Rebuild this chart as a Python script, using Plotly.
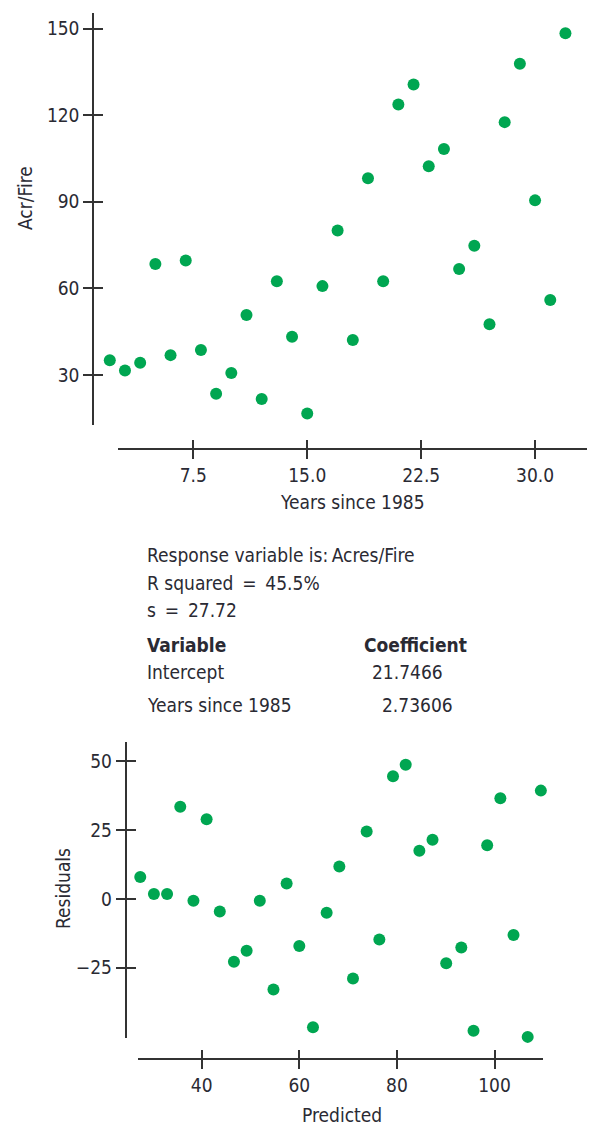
import plotly.graph_objects as go

# ---------------- data ----------------
years = [2, 3, 4, 5, 6, 7, 8, 9, 10, 11, 12, 13, 14, 15, 16, 17,
         18, 19, 20, 21, 22, 23, 24, 25, 26, 27, 28, 29, 30, 31, 32]
acres_per_fire = [35.1, 31.6, 34.3, 68.5, 36.9, 69.7, 38.7, 23.5, 30.7, 50.8,
                  21.7, 62.5, 43.3, 16.7, 60.8, 80.1, 42.1, 98.2, 62.5, 123.7,
                  130.6, 102.3, 108.3, 66.7, 74.8, 47.6, 117.6, 137.8, 90.5,
                  56.0, 148.4]
predicted = [27.4, 30.2, 32.9, 35.6, 38.3, 41.0, 43.7, 46.6, 49.2, 51.9, 54.7,
             57.4, 60.0, 62.8, 65.6, 68.2, 71.0, 73.8, 76.4, 79.2, 81.8, 84.6,
             87.3, 90.1, 93.2, 95.7, 98.5, 101.2, 103.9, 106.8, 109.5]
residuals = [8.0, 1.8, 1.8, 33.5, -0.7, 29.0, -4.6, -22.9, -18.9, -0.7, -33.0,
             5.6, -17.1, -46.7, -5.0, 11.8, -29.0, 24.5, -14.8, 44.6, 48.8,
             17.5, 21.5, -23.4, -17.7, -48.0, 19.5, 36.6, -13.1, -50.2, 39.4]

top_x_ticks = [7.5, 15.0, 22.5, 30.0]
top_x_labels = ["7.5", "15.0", "22.5", "30.0"]
top_y_ticks = [30, 60, 90, 120, 150]
top_y_labels = ["30", "60", "90", "120", "150"]
bot_x_ticks = [40, 60, 80, 100]
bot_x_labels = ["40", "60", "80", "100"]
bot_y_ticks = [-25, 0, 25, 50]
bot_y_labels = ["\u221225", "0", "25", "50"]

summary_lines = ["Response variable is:\u2009Acres/Fire",
                 "R squared \u2009=\u2009 45.5%",
                 "s \u2009=\u2009 27.72"]
table_header = ["Variable", "Coefficient"]
table_rows = [("Intercept", "21.7466"), ("Years since 1985", "2.73606")]

# ---------------- style ----------------
W, H = 597, 1137
FONT = "DejaVu Sans Condensed, Liberation Sans Narrow, sans-serif"
TXT = "#2a2a33"
LINE = "#333333"
GREEN = "#00a651"
FS = 19


def fx(px):
    return px / W


def fy(py):
    return 1 - py / H


fig = go.Figure()

# invisible trace carrying the shorter top x-axis line (added first, drawn below)
fig.add_trace(go.Scatter(x=years, y=acres_per_fire, mode="markers",
                         marker=dict(opacity=0), xaxis="x5", yaxis="y", hoverinfo="skip"))
marker = dict(color=GREEN, size=12, line=dict(width=0))
fig.add_trace(go.Scatter(x=years, y=acres_per_fire, mode="markers", marker=marker,
                         cliponaxis=False, xaxis="x", yaxis="y", hoverinfo="x+y"))
fig.add_trace(go.Scatter(x=predicted, y=residuals, mode="markers", marker=marker,
                         cliponaxis=False, xaxis="x2", yaxis="y2", hoverinfo="x+y"))
# invisible traces carrying the "inside" half of the crossing ticks
fig.add_trace(go.Scatter(x=years, y=acres_per_fire, mode="markers",
                         marker=dict(opacity=0), xaxis="x3", yaxis="y3", hoverinfo="skip"))
fig.add_trace(go.Scatter(x=predicted, y=residuals, mode="markers",
                         marker=dict(opacity=0), xaxis="x4", yaxis="y4", hoverinfo="skip"))

tickfont = dict(family=FONT, size=FS, color=TXT)


def main_axis(**kw):
    d = dict(showline=True, linecolor=LINE, linewidth=2, ticks="outside",
             ticklen=9, tickwidth=2, tickcolor=LINE, showgrid=False,
             zeroline=False, tickfont=tickfont, anchor="free", fixedrange=True)
    d.update(kw)
    return d


def inner_axis(**kw):
    d = dict(showline=False, ticks="inside", ticklen=9, tickwidth=2,
             tickcolor=LINE, showgrid=False, zeroline=False,
             showticklabels=False, anchor="free", fixedrange=True)
    d.update(kw)
    return d

# top plot geometry (pixels)
tx_pad = 100.0                       # data area reaches a bit left of the axis line
tx0, tx1, txpos = 118.3, 586.7, 449.3
ty0, ty1, typos = 12.7, 425.0, 93.3
top_xr_line = [2.56, 33.4]
top_xr = [top_xr_line[0] - (tx0 - tx_pad) * (top_xr_line[1] - top_xr_line[0]) / (tx1 - tx0),
          top_xr_line[1]]
top_yr = [12.7, 155.5]
# bottom plot geometry
bx0, bx1, bxpos = 138.3, 543.3, 1059.3
by0, by1, bypos = 741.7, 1037.7, 125.7
bot_xr = [27.0, 110.0]
bot_yr = [-50.5, 57.2]

fig.update_layout(
    xaxis=main_axis(domain=[fx(tx_pad), fx(tx1)], range=top_xr, position=fy(txpos),
                    showline=False, tickvals=top_x_ticks, ticktext=top_x_labels),
    xaxis5=dict(domain=[fx(tx0), fx(tx1)], range=top_xr_line, position=fy(txpos),
                anchor="free", showline=True, linecolor=LINE, linewidth=2,
                ticks="", showticklabels=False, showgrid=False, zeroline=False,
                fixedrange=True),
    yaxis=main_axis(domain=[fy(ty1), fy(ty0)], range=top_yr, position=fx(typos),
                    tickvals=top_y_ticks, ticktext=top_y_labels),
    xaxis3=inner_axis(domain=[fx(tx_pad), fx(tx1)], range=top_xr, position=fy(txpos),
                      overlaying="x", tickvals=top_x_ticks),
    yaxis3=inner_axis(domain=[fy(ty1), fy(ty0)], range=top_yr, position=fx(typos),
                      overlaying="y", tickvals=top_y_ticks),
    xaxis2=main_axis(domain=[fx(bx0), fx(bx1)], range=bot_xr, position=fy(bxpos),
                     tickvals=bot_x_ticks, ticktext=bot_x_labels),
    yaxis2=main_axis(domain=[fy(by1), fy(by0)], range=bot_yr, position=fx(bypos),
                     tickvals=bot_y_ticks, ticktext=bot_y_labels),
    xaxis4=inner_axis(domain=[fx(bx0), fx(bx1)], range=bot_xr, position=fy(bxpos),
                      overlaying="x2", tickvals=bot_x_ticks),
    yaxis4=inner_axis(domain=[fy(by1), fy(by0)], range=bot_yr, position=fx(bypos),
                      overlaying="y2", tickvals=bot_y_ticks),
)

ann = []


def text(s, x, y, anchor="left", angle=0, size=FS):
    ann.append(dict(text=s, x=fx(x), y=fy(y), xref="paper", yref="paper",
                    xanchor=anchor, yanchor="middle", showarrow=False,
                    textangle=angle, font=dict(family=FONT, size=size, color=TXT)))

# axis titles
text("Acr/Fire", 25, 198, anchor="center", angle=-90)
text("Years since 1985", 352, 502, anchor="center")
text("Residuals", 63, 889, anchor="center", angle=-90)
text("Predicted", 342, 1115, anchor="center")

# regression summary
for s, y in zip(summary_lines, [555, 582.7, 610]):
    text(s, 145, y)
text("<b>" + table_header[0] + "</b>", 145, 645)
text("<b>" + table_header[1] + "</b>", 361.7, 645)
for (name, val), y, vx in zip(table_rows, [671.7, 705], [370, 380]):
    text(name, 145, y)
    text(val, vx, y)

fig.update_layout(
    annotations=ann,
    width=W, height=H,
    margin=dict(l=0, r=0, t=0, b=0),
    paper_bgcolor="white", plot_bgcolor="rgba(0,0,0,0)",
    showlegend=False,
)

fig.write_html("out.html", config={"displayModeBar": False},
               post_script="document.body.style.margin='0';document.body.style.overflow='hidden';")
